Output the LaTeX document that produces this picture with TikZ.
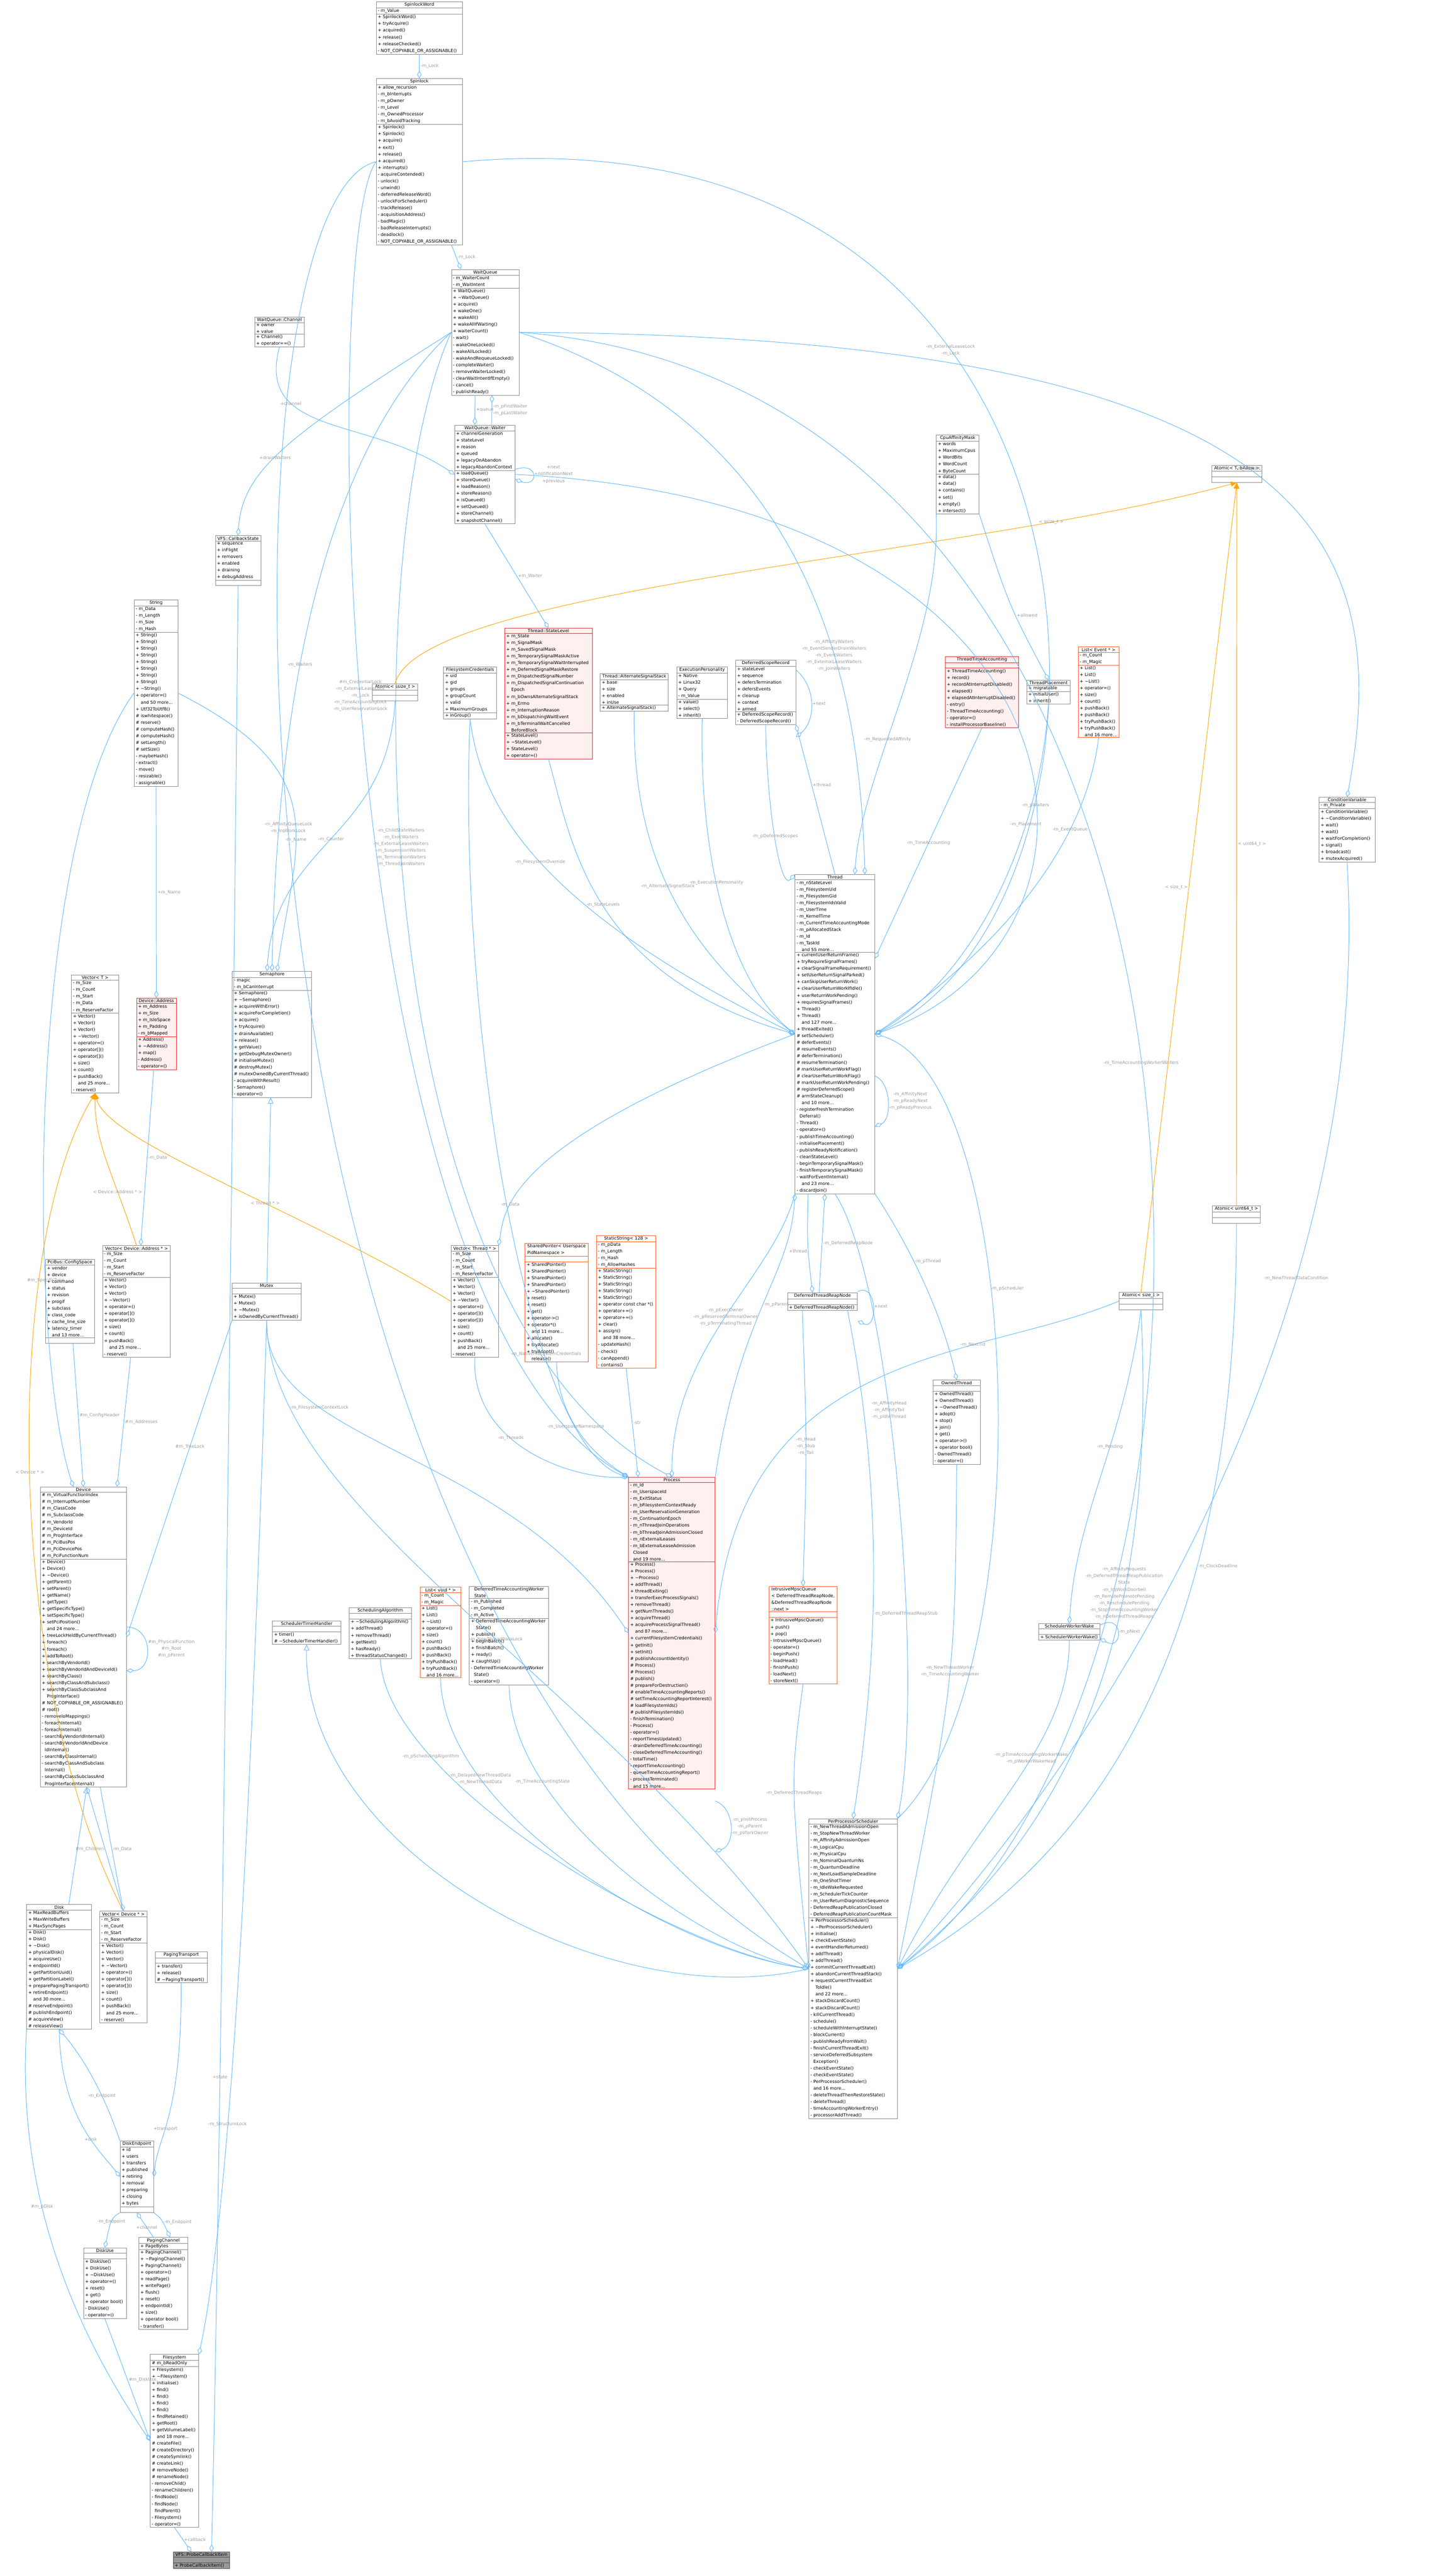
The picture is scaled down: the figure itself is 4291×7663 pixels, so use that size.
\documentclass[tikz,border=0pt]{standalone}
\usepackage{fontspec}
\setmainfont{DejaVu Sans}
\usetikzlibrary{shapes.multipart,arrows.meta}
\definecolor{edgeblue}{HTML}{63B8FF}
\definecolor{labgray}{HTML}{9A9A9A}
\definecolor{boxgray}{HTML}{8A8A8A}
\definecolor{hotred}{HTML}{FF2020}
\definecolor{palered}{HTML}{FFF0F0}
\definecolor{orred}{HTML}{FF5A1F}
\definecolor{tmplorange}{HTML}{FFA500}
\newcommand{\tld}{\textasciitilde}
\newcommand{\nil}{\rule{0pt}{1.1pt}}
% one class box: name, extra style, x, top y, width, title, attributes, methods
\newcommand{\cbox}[8]{\node[cls,#2,minimum width=#5*0.1pt,anchor=north] (#1) at (#3,#4) {#6\nodepart{two}#7\nodepart{three}#8};}
\begin{document}
\catcode`\_=12
\begin{tikzpicture}[
    x=0.1pt, y=-0.1pt,
    every node/.style={font={\fontsize{1.3pt}{2pt}\selectfont}},
    cls/.style={                        % class box
        rectangle split, rectangle split parts=3,
        rectangle split part align={center,left,left},
        draw=boxgray, line width=0.12pt, fill=white,
        inner xsep=0.45pt, inner ysep=0.22pt, align=left
    },
    hot/.style={draw=hotred, fill=palered},
    tpl/.style={draw=orred},
    dim/.style={draw=black!70, fill=black!40},
    agg/.style={draw=edgeblue, line width=0.15pt, -{Diamond[open,length=2.2pt,width=1.3pt]}},
    inh/.style={draw=edgeblue, line width=0.15pt, -{Triangle[open,length=1.8pt,width=1.6pt]}},
    tmpl/.style={draw=tmplorange, line width=0.15pt, -{Triangle[length=1.8pt,width=1.5pt]}},
    lbl/.style={text=labgray, align=center, inner sep=0.3pt}
]
\useasboundingbox (0,0) rectangle (4291,7663);

% top chain
\cbox{spinword}{}{1247}{5}{256}{SpinlockWord}{- m_Value}{+ SpinlockWord()\\+ tryAcquire()\\+ acquired()\\+ release()\\+ releaseChecked()\\- NOT_COPYABLE_OR_ASSIGNABLE()}
\cbox{spinlock}{}{1247}{233}{256}{Spinlock}{+ allow_recursion\\- m_bInterrupts\\- m_pOwner\\- m_Level\\- m_OwnedProcessor\\- m_bAvoidTracking}{+ Spinlock()\\+ Spinlock()\\+ acquire()\\+ exit()\\+ release()\\+ acquired()\\+ interrupts()\\- acquireContended()\\- unlock()\\- unwind()\\- deferredReleaseWord()\\- unlockForScheduler()\\- trackRelease()\\- acquisitionAddress()\\- badMagic()\\- badReleaseInterrupts()\\- deadlock()\\- NOT_COPYABLE_OR_ASSIGNABLE()}
\cbox{waitq}{}{1443}{801}{201}{WaitQueue}{- m_WaiterCount\\- m_WaitIntent}{+ WaitQueue()\\+ \tld WaitQueue()\\+ acquire()\\+ wakeOne()\\+ wakeAll()\\+ wakeAllIfWaiting()\\+ waiterCount()\\- wait()\\- wakeOneLocked()\\- wakeAllLocked()\\- wakeAndRequeueLocked()\\- completeWaiter()\\- removeWaiterLocked()\\- clearWaitIntentIfEmpty()\\- cancel()\\- publishReady()}
\cbox{waiter}{}{1442}{1264}{180}{WaitQueue::Waiter}{+ channelGeneration\\+ stateLevel\\+ reason\\+ queued\\+ legacyOnAbandon\\+ legacyAbandonContext}{+ loadQueue()\\+ storeQueue()\\+ loadReason()\\+ storeReason()\\+ isQueued()\\+ setQueued()\\+ storeChannel()\\+ snapshotChannel()}
\cbox{wqchan}{}{831}{942}{147}{WaitQueue::Channel}{+ owner\\+ value}{+ Channel()\\+ operator==()}
\cbox{cbstate}{}{708}{1593}{135}{VFS::CallbackState}{+ sequence\\+ inFlight\\+ removers\\+ enabled\\+ draining\\+ debugAddress}{\nil}
\cbox{cpumask}{}{2848}{1294}{127}{CpuAffinityMask}{+ words\\+ MaximumCpus\\+ WordBits\\+ WordCount\\+ ByteCount}{+ data()\\+ data()\\+ contains()\\+ set()\\+ empty()\\+ intersect()}
\cbox{atomtmpl}{}{3678}{1384}{150}{Atomic< T, bAllow >}{\nil}{\nil}

% thread members row
\cbox{string}{}{464}{1784}{130}{String}{- m_Data\\- m_Length\\- m_Size\\- m_Hash}{+ String()\\+ String()\\+ String()\\+ String()\\+ String()\\+ String()\\+ String()\\+ String()\\+ \tld String()\\+ operator=()\\\phantom{+ }and 50 more...\\+ Utf32ToUtf8()\\\# iswhitespace()\\\# reserve()\\\# computeHash()\\\# computeHash()\\\# setLength()\\\# setSize()\\- maybeHash()\\- extract()\\- move()\\- resizable()\\- assignable()}
\cbox{atomssize}{}{1175}{2033}{135}{Atomic< ssize_t >}{\nil}{\nil}
\cbox{statelvl}{hot}{1631}{1868}{260}{Thread::StateLevel}{+ m_State\\+ m_SignalMask\\+ m_SavedSignalMask\\+ m_TemporarySignalMaskActive\\+ m_TemporarySignalWaitInterrupted\\+ m_DeferredSignalMaskRestore\\+ m_DispatchedSignalNumber\\+ m_DispatchedSignalContinuation\\\phantom{+ }Epoch\\+ m_bOwnsAlternateSignalStack\\+ m_Errno\\+ m_InterruptionReason\\+ m_bDispatchingWaitEvent\\+ m_bTerminalWaitCancelled\\\phantom{+ }BeforeBlock}{+ StateLevel()\\+ \tld StateLevel()\\+ StateLevel()\\+ operator=()}
\cbox{fscred}{}{1398}{1983}{158}{FilesystemCredentials}{+ uid\\+ gid\\+ groups\\+ groupCount\\+ valid\\+ MaximumGroups}{+ inGroup()}
\cbox{altstack}{}{1886}{2003}{202}{Thread::AlternateSignalStack}{+ base\\+ size\\+ enabled\\+ inUse}{+ AlternateSignalStack()}
\cbox{execpers}{}{2088}{1983}{151}{ExecutionPersonality}{+ Native\\+ Linux32\\+ Query\\- m_Value}{+ value()\\+ select()\\+ inherit()}
\cbox{defscope}{}{2277}{1963}{179}{DeferredScopeRecord}{+ stateLevel\\+ sequence\\+ defersTermination\\+ defersEvents\\+ cleanup\\+ context\\+ armed}{+ DeferredScopeRecord()\\- DeferredScopeRecord()}
\cbox{timeacct}{hot}{2920}{1952}{217}{ThreadTimeAccounting}{\nil}{+ ThreadTimeAccounting()\\+ record()\\+ recordAtInterruptDisabled()\\+ elapsed()\\+ elapsedAtInterruptDisabled()\\- entry()\\- ThreadTimeAccounting()\\- operator=()\\- installProcessorBaseline()}
\cbox{placement}{}{3118}{2023}{129}{ThreadPlacement}{+ migratable}{+ initialUser()\\+ inherit()}
\cbox{listevent}{tpl}{3267}{1924}{121}{List< Event * >}{- m_Count\\- m_Magic}{+ List()\\+ List()\\+ \tld List()\\+ operator=()\\+ size()\\+ count()\\+ pushBack()\\+ pushBack()\\+ tryPushBack()\\+ tryPushBack()\\\phantom{+ }and 16 more...}
\cbox{condvar}{}{4006}{2371}{166}{ConditionVariable}{- m_Private}{+ ConditionVariable()\\+ \tld ConditionVariable()\\+ wait()\\+ wait()\\+ waitForCompletion()\\+ signal()\\+ broadcast()\\+ mutexAcquired()}

% middle left
\cbox{vectmpl}{}{283}{2900}{141}{Vector< T >}{- m_Size\\- m_Count\\- m_Start\\- m_Data\\- m_ReserveFactor}{+ Vector()\\+ Vector()\\+ Vector()\\+ \tld Vector()\\+ operator=()\\+ operator[]()\\+ operator[]()\\+ size()\\+ count()\\+ pushBack()\\\phantom{+ }and 25 more...\\- reserve()}
\cbox{devaddr}{hot}{465}{2969}{118}{Device::Address}{+ m_Address\\+ m_Size\\+ m_IsIoSpace\\+ m_Padding\\- m_bMapped}{+ Address()\\+ \tld Address()\\+ map()\\- Address()\\- operator=()}
\cbox{sema}{}{809}{2889}{236}{Semaphore}{- magic\\- m_bCanInterrupt}{+ Semaphore()\\+ \tld Semaphore()\\+ acquireWithError()\\+ acquireForCompletion()\\+ acquire()\\+ tryAcquire()\\+ drainAvailable()\\+ release()\\+ getValue()\\+ getDebugMutexOwner()\\\# initialiseMutex()\\\# destroyMutex()\\\# mutexOwnedByCurrentThread()\\- acquireWithResult()\\- Semaphore()\\- operator=()}
\cbox{thread}{}{2483}{2601}{237}{Thread}{- m_nStateLevel\\- m_FilesystemUid\\- m_FilesystemGid\\- m_FilesystemIdsValid\\- m_UserTime\\- m_KernelTime\\- m_CurrentTimeAccountingMode\\- m_pAllocatedStack\\- m_Id\\- m_TaskId\\\phantom{+ }and 55 more...}{+ currentUserReturnFrame()\\+ tryRequireSignalFrames()\\+ clearSignalFrameRequirement()\\+ setUserReturnSignalParked()\\+ canSkipUserReturnWork()\\+ clearUserReturnWorkIfIdle()\\+ userReturnWorkPending()\\+ requiresSignalFrames()\\+ Thread()\\+ Thread()\\\phantom{+ }and 127 more...\\+ threadExited()\\\# setScheduler()\\\# deferEvents()\\\# resumeEvents()\\\# deferTermination()\\\# resumeTermination()\\\# markUserReturnWorkFlag()\\\# clearUserReturnWorkFlag()\\\# markUserReturnWorkPending()\\\# registerDeferredScope()\\\# armStateCleanup()\\\phantom{+ }and 10 more...\\- registerFreshTermination\\\phantom{- }Deferral()\\- Thread()\\- operator=()\\- publishTimeAccounting()\\- initialisePlacement()\\- publishReadyNotification()\\- cleanStateLevel()\\- beginTemporarySignalMask()\\- finishTemporarySignalMask()\\- waitForEventInternal()\\\phantom{+ }and 23 more...\\- discardJoin()}

% template instances and owners
\cbox{vecaddr}{}{406}{3705}{202}{Vector< Device::Address * >}{- m_Size\\- m_Count\\- m_Start\\- m_ReserveFactor}{+ Vector()\\+ Vector()\\+ Vector()\\+ \tld Vector()\\+ operator=()\\+ operator[]()\\+ operator[]()\\+ size()\\+ count()\\+ pushBack()\\\phantom{+ }and 25 more...\\- reserve()}
\cbox{pcicfg}{}{208}{3745}{146}{PciBus::ConfigSpace}{+ vendor\\+ device\\+ command\\+ status\\+ revision\\+ progif\\+ subclass\\+ class_code\\+ cache_line_size\\+ latency_timer\\\phantom{+ }and 13 more...}{\nil}
\cbox{mutex}{}{793}{3816}{205}{Mutex}{\nil}{+ Mutex()\\+ Mutex()\\+ \tld Mutex()\\+ isOwnedByCurrentThread()}
\cbox{vecthread}{}{1412}{3705}{141}{Vector< Thread * >}{- m_Size\\- m_Count\\- m_Start\\- m_ReserveFactor}{+ Vector()\\+ Vector()\\+ Vector()\\+ \tld Vector()\\+ operator=()\\+ operator[]()\\+ operator[]()\\+ size()\\+ count()\\+ pushBack()\\\phantom{+ }and 25 more...\\- reserve()}
\cbox{shptr}{tpl}{1655}{3698}{187}{SharedPointer< Userspace\\PidNamespace >}{\nil}{+ SharedPointer()\\+ SharedPointer()\\+ SharedPointer()\\+ SharedPointer()\\+ \tld SharedPointer()\\+ reset()\\+ reset()\\+ get()\\+ operator->()\\+ operator*()\\\phantom{+ }and 11 more...\\+ allocate()\\+ tryAllocate()\\+ tryAdopt()\\\phantom{+ }release()}
\cbox{statstr}{tpl}{1862}{3675}{176}{StaticString< 128 >}{- m_pData\\- m_Length\\- m_Hash\\- m_AllowHashes}{+ StaticString()\\+ StaticString()\\+ StaticString()\\+ StaticString()\\+ StaticString()\\+ operator const char *()\\+ operator+=()\\+ operator+=()\\+ clear()\\+ assign()\\\phantom{+ }and 38 more...\\- updateHash()\\- check()\\- canAppend()\\- contains()}
\cbox{reapnode}{}{2446}{3845}{208}{DeferredThreadReapNode}{\nil}{+ DeferredThreadReapNode()}
\cbox{atomu64}{}{3677}{3586}{143}{Atomic< uint64_t >}{\nil}{\nil}
\cbox{atomsize}{}{3393}{3844}{130}{Atomic< size_t >}{\nil}{\nil}
\cbox{ownedthr}{}{2845}{4105}{141}{OwnedThread}{\nil}{+ OwnedThread()\\+ OwnedThread()\\+ \tld OwnedThread()\\+ adopt()\\+ stop()\\+ join()\\+ get()\\+ operator->()\\+ operator bool()\\- OwnedThread()\\- operator=()}
\cbox{device}{}{248}{4423}{256}{Device}{\# m_VirtualFunctionIndex\\\# m_InterruptNumber\\\# m_ClassCode\\\# m_SubclassCode\\\# m_VendorId\\\# m_DeviceId\\\# m_ProgInterface\\\# m_PciBusPos\\\# m_PciDevicePos\\\# m_PciFunctionNum}{+ Device()\\+ Device()\\+ \tld Device()\\+ getParent()\\+ setParent()\\+ getName()\\+ getType()\\+ getSpecificType()\\+ setSpecificType()\\+ setPciPosition()\\\phantom{+ }and 24 more...\\+ treeLockHeldByCurrentThread()\\+ foreach()\\+ foreach()\\+ addToRoot()\\+ searchByVendorId()\\+ searchByVendorIdAndDeviceId()\\+ searchByClass()\\+ searchByClassAndSubclass()\\+ searchByClassSubclassAnd\\\phantom{+ }ProgInterface()\\\# NOT_COPYABLE_OR_ASSIGNABLE()\\\# root()\\- removeIoMappings()\\- foreachInternal()\\- foreachInternal()\\- searchByVendorIdInternal()\\- searchByVendorIdAndDevice\\\phantom{- }IdInternal()\\- searchByClassInternal()\\- searchByClassAndSubclass\\\phantom{- }Internal()\\- searchByClassSubclassAnd\\\phantom{- }ProgInterfaceInternal()}
\cbox{process}{hot}{1998}{4394}{257}{Process}{- m_Id\\- m_UserspaceId\\- m_ExitStatus\\- m_bFilesystemContextReady\\- m_UserReservationGeneration\\- m_ContinuationEpoch\\- m_nThreadJoinOperations\\- m_bThreadJoinAdmissionClosed\\- m_nExternalLeases\\- m_bExternalLeaseAdmission\\\phantom{- }Closed\\\phantom{- }and 19 more...}{+ Process()\\+ Process()\\+ \tld Process()\\+ addThread()\\+ threadExiting()\\+ transferExecProcessSignals()\\+ removeThread()\\+ getNumThreads()\\+ acquireThread()\\+ acquireProcessSignalThread()\\\phantom{+ }and 87 more...\\+ currentFilesystemCredentials()\\+ getInit()\\+ setInit()\\\# publishAccountIdentity()\\\# Process()\\\# Process()\\\# publish()\\\# prepareForDestruction()\\\# enableTimeAccountingReports()\\\# setTimeAccountingReportInterest()\\\# loadFilesystemIds()\\\# publishFilesystemIds()\\- finishTermination()\\- Process()\\- operator=()\\- reportTimesUpdated()\\- drainDeferredTimeAccounting()\\- closeDeferredTimeAccounting()\\- totalTime()\\- reportTimeAccounting()\\- queueTimeAccountingReport()\\- processTerminated()\\\phantom{- }and 15 more...}

% scheduler row
\cbox{schedtimer}{}{912}{4821}{203}{SchedulerTimerHandler}{\nil}{+ timer()\\\# \tld SchedulerTimerHandler()}
\cbox{schedalgo}{}{1131}{4781}{185}{SchedulingAlgorithm}{\nil}{+ \tld SchedulingAlgorithm()\\+ addThread()\\+ removeThread()\\+ getNext()\\+ hasReady()\\+ threadStatusChanged()}
\cbox{listvoid}{tpl}{1310}{4721}{122}{List< void * >}{- m_Count\\- m_Magic}{+ List()\\+ List()\\+ \tld List()\\+ operator=()\\+ size()\\+ count()\\+ pushBack()\\+ pushBack()\\+ tryPushBack()\\+ tryPushBack()\\\phantom{+ }and 16 more...}
\cbox{dtaws}{}{1514}{4719}{236}{DeferredTimeAccountingWorker\\State}{- m_Published\\- m_Completed\\- m_Active}{+ DeferredTimeAccountingWorker\\\phantom{+ }State()\\+ publish()\\+ beginBatch()\\+ finishBatch()\\+ ready()\\+ caughtUp()\\- DeferredTimeAccountingWorker\\\phantom{- }State()\\- operator=()}
\cbox{mpscq}{tpl}{2388}{4719}{203}{IntrusiveMpscQueue\\< DeferredThreadReapNode,\\ \&DeferredThreadReapNode\\::next >}{\nil}{+ IntrusiveMpscQueue()\\+ push()\\+ pop()\\- IntrusiveMpscQueue()\\- operator=()\\- beginPush()\\- loadHead()\\- finishPush()\\- loadNext()\\- storeNext()}
\cbox{workwake}{}{3180}{4829}{182}{SchedulerWorkerWake}{\nil}{+ SchedulerWorkerWake()}
\cbox{pps}{}{2537}{5410}{263}{PerProcessorScheduler}{- m_NewThreadAdmissionOpen\\- m_StopNewThreadWorker\\- m_AffinityAdmissionOpen\\- m_LogicalCpu\\- m_PhysicalCpu\\- m_NominalQuantumNs\\- m_QuantumDeadline\\- m_NextLoadSampleDeadline\\- m_OneShotTimer\\- m_IdleWakeRequested\\- m_SchedulerTickCounter\\- m_UserReturnDiagnosticSequence\\- DeferredReapPublicationClosed\\- DeferredReapPublicationCountMask}{+ PerProcessorScheduler()\\+ \tld PerProcessorScheduler()\\+ initialise()\\+ checkEventState()\\+ eventHandlerReturned()\\+ addThread()\\+ addThread()\\+ commitCurrentThreadExit()\\+ abandonCurrentThreadStack()\\+ requestCurrentThreadExit\\\phantom{+ }ToIdle()\\\phantom{+ }and 22 more...\\+ stackDiscardCount()\\+ stackDiscardCount()\\- killCurrentThread()\\- schedule()\\- scheduleWithInterruptState()\\- blockCurrent()\\- publishReadyFromWait()\\- finishCurrentThreadExit()\\- serviceDeferredSubsystem\\\phantom{- }Exception()\\- checkEventState()\\- checkEventState()\\- PerProcessorScheduler()\\\phantom{- }and 16 more...\\- deleteThreadThenRestoreState()\\- deleteThread()\\- timeAccountingWorkerEntry()\\- processorAddThread()}

% storage corner
\cbox{disk}{}{176}{5665}{193}{Disk}{+ MaxReadBuffers\\+ MaxWriteBuffers\\+ MaxSyncPages}{+ Disk()\\+ Disk()\\+ \tld Disk()\\+ physicalDisk()\\+ acquireUse()\\+ endpointId()\\+ getPartitionUuid()\\+ getPartitionLabel()\\+ preparePagingTransport()\\+ retireEndpoint()\\\phantom{+ }and 30 more...\\\# reserveEndpoint()\\\# publishEndpoint()\\\# acquireView()\\\# releaseView()}
\cbox{vecdev}{}{367}{5685}{141}{Vector< Device * >}{- m_Size\\- m_Count\\- m_Start\\- m_ReserveFactor}{+ Vector()\\+ Vector()\\+ Vector()\\+ \tld Vector()\\+ operator=()\\+ operator[]()\\+ operator[]()\\+ size()\\+ count()\\+ pushBack()\\\phantom{+ }and 25 more...\\- reserve()}
\cbox{pagetrans}{}{539}{5805}{154}{PagingTransport}{\nil}{+ transfer()\\+ release()\\\# \tld PagingTransport()}
\cbox{diskend}{}{407}{6368}{100}{DiskEndpoint}{+ id\\+ users\\+ transfers\\+ published\\+ retiring\\+ removal\\+ preparing\\+ closing\\+ bytes}{\nil}
\cbox{diskuse}{}{312}{6686}{127}{DiskUse}{\nil}{+ DiskUse()\\+ DiskUse()\\+ \tld DiskUse()\\+ operator=()\\+ reset()\\+ get()\\+ operator bool()\\- DiskUse()\\- operator=()}
\cbox{pagechan}{}{486}{6655}{146}{PagingChannel}{+ PageBytes}{+ PagingChannel()\\+ \tld PagingChannel()\\+ PagingChannel()\\+ operator=()\\+ readPage()\\+ writePage()\\+ flush()\\+ reset()\\+ endpointId()\\+ size()\\+ operator bool()\\- transfer()}
\cbox{fs}{}{519}{7003}{144}{Filesystem}{\# m_bReadOnly}{+ Filesystem()\\+ \tld Filesystem()\\+ initialise()\\+ find()\\+ find()\\+ find()\\+ find()\\+ findRetained()\\+ getRoot()\\+ getVolumeLabel()\\\phantom{+ }and 18 more...\\\# createFile()\\\# createDirectory()\\\# createSymlink()\\\# createLink()\\\# removeNode()\\\# renameNode()\\- removeChild()\\- renameChildren()\\- findNode()\\- findNode()\\\phantom{- }findParent()\\- Filesystem()\\- operator=()}
\cbox{probe}{dim}{599}{7591}{168}{VFS::ProbeCallbackItem}{\nil}{+ ProbeCallbackItem()}

% locks and wait queues
\draw[agg] (spinword) -- node[lbl,right]{-m_Lock} (spinlock);
\draw[agg] (spinlock) -- node[lbl,right]{-m_Lock} (waitq);
\draw[agg] (spinlock.west) .. controls (950,700) and (980,3900) .. node[lbl,pos=0.45]{\#m_CredentialLock\\-m_ExternalLeaseLock\\-m_Lock\\-m_TimeAccountingLock\\-m_UserReservationLock} (process.north west);
\draw[agg] (spinlock.west) .. controls (600,600) and (620,4800) .. node[lbl,pos=0.45]{-m_AffinityQueueLock\\-m_IrqWorkLock} (pps.west);
\draw[agg] (spinlock.east) .. controls (3425,300) and (3425,2700) .. node[lbl,pos=0.35]{-m_ExternalLeaseLock\\-m_Lock} (thread.east);
\draw[agg] ([xshift=-3pt]waitq.south) -- node[lbl,right]{+queue} ([xshift=-3pt]waiter.north);
\draw[agg] ([xshift=2pt]waiter.north) -- node[lbl,right]{-m_pFirstWaiter\\-m_pLastWaiter} ([xshift=2pt]waitq.south);
\draw[agg] ([yshift=1.5pt]waiter.east) .. controls +(70,-25) and +(70,25) .. node[lbl,right]{+next\\+notificationNext\\+previous} ([yshift=-1.5pt]waiter.east);
\draw[agg] (wqchan.south) .. controls (760,1300) and (1100,1240) .. node[lbl,pos=0.3]{+channel} (waiter.west);
\draw[agg] (waitq.west) .. controls (850,1300) and (720,1400) .. node[lbl,pos=0.55]{+drainWaiters} (cbstate.north);
\draw[agg] (waiter.south) -- node[lbl,right]{+m_Waiter} (statelvl.north);
\draw[agg] (waitq.west) .. controls (1060,1600) and (1060,3900) .. node[lbl,pos=0.45]{-m_ChildStateWaiters\\-m_ExecWaiters\\-m_ExternalLeaseWaiters\\-m_SuspensionWaiters\\-m_TerminationWaiters\\-m_ThreadJoinWaiters} (process.north);
\draw[agg] (waitq.east) .. controls (2500,1300) and (2560,2200) .. node[lbl,pos=0.6]{-m_AffinityWaiters\\-m_EventSenderDrainWaiters\\-m_EventWaiters\\-m_ExternalLeaseWaiters\\-m_JoinWaiters} ([xshift=-3pt]thread.north east);
\draw[agg] (waitq.east) .. controls (3900,1000) and (4150,1600) .. node[lbl,pos=0.5]{-m_Waiters} (condvar.north);
\draw[agg] (waitq.west) .. controls (900,1400) and (820,2300) .. node[lbl,pos=0.55]{-m_Waiters} (sema.north);
\draw[agg] (waitq.east) .. controls (3822,1150) and (3822,5000) .. node[lbl,pos=0.5]{-m_TimeAccountingWorkerWaiters} (pps.east);
\draw[agg] (condvar.south) .. controls (4090,4000) and (3200,5300) .. node[lbl,pos=0.3]{-m_NewThreadDataCondition} (pps.east);
\draw[agg] (waiter.east) .. controls (3300,1500) and (3400,2800) .. node[lbl,pos=0.6]{-m_pWaiters} (thread.east);

% string, atomics, semaphore
\draw[agg] (string) -- node[lbl,right]{+m_Name} (devaddr);
\draw[agg] (string.east) .. controls (1000,2300) and (880,2500) .. node[lbl,pos=0.6]{-m_Name} ([xshift=1.5pt]sema.north);
\draw[agg] (atomssize.south) .. controls (1150,2500) and (820,2500) .. node[lbl,pos=0.5]{-m_Counter} ([xshift=-1.5pt]sema.north);
\draw[agg] (string.west) .. controls (80,2500) and (80,4000) .. node[lbl,pos=0.7]{\#m_SpecificType} ([xshift=-3pt]device.north);
\draw[tmpl] (atomssize.north) .. controls (1250,1750) and (2900,1650) .. node[lbl,pos=0.8]{< ssize_t >} (atomtmpl.south);
\draw[tmpl] (atomu64.north) -- node[lbl,right]{< uint64_t >} (atomtmpl.south);
\draw[tmpl] (atomsize.north) -- node[lbl,left]{< size_t >} (atomtmpl.south);

% vectors and devices
\draw[tmpl] (vecaddr.north) .. controls (340,3500) and (280,3400) .. node[lbl,pos=0.3]{< Device::Address * >} (vectmpl.south);
\draw[tmpl] (vecdev.north) .. controls (10,5000) and (10,3700) .. node[lbl,pos=0.5]{< Device * >} (vectmpl.south);
\draw[tmpl] (vecthread.west) .. controls (900,3600) and (320,3400) .. node[lbl,pos=0.4]{< Thread * >} (vectmpl.south);
\draw[agg] (devaddr) -- node[lbl,right]{-m_Data} (vecaddr);
\draw[agg] (vecaddr) -- node[lbl,right]{\#m_Addresses} ([xshift=10pt]device.north);
\draw[agg] (pcicfg) -- node[lbl,right]{\#m_ConfigHeader} (device.north);
\draw[agg] (mutex.south west) -- node[lbl,pos=0.4]{\#m_TreeLock} (device.east);
\draw[inh] (mutex) -- (sema);
\draw[agg] (mutex.south) .. controls (780,4300) and (1500,4300) .. node[lbl,pos=0.3]{-m_FilesystemContextLock} (process.west);
\draw[agg] (mutex.south) .. controls (760,5000) and (700,6500) .. node[lbl,pos=0.7]{-m_StructureLock} (fs.north east);
\draw[agg] (mutex.south) .. controls (800,4500) and (1800,5000) .. node[lbl,pos=0.55]{-m_NewThreadDataLock} (pps.west);
\draw[agg] ([yshift=3pt]device.east) .. controls +(80,0) and +(80,0) .. node[lbl,right]{\#m_PhysicalFunction\\\#m_Root\\\#m_pParent} ([yshift=-10pt]device.east);
\draw[inh] (disk) -- ([xshift=1pt]device.south);
\draw[agg] ([xshift=5pt]device.south) -- node[lbl,right]{-m_Data} (vecdev.north);
\draw[agg] (vecdev.north) -- node[lbl,left]{\#m_Children} ([xshift=1pt]device.south);

% storage links
\draw[agg] (disk.south) .. controls (180,6300) and (300,6400) .. node[lbl,pos=0.6]{+disk} (diskend.west);
\draw[agg] (diskend.north west) .. controls (300,6200) and (230,6100) .. node[lbl,pos=0.3]{-m_Endpoint} (disk.south);
\draw[agg] (pagetrans.south) .. controls (540,6300) and (470,6350) .. node[lbl,pos=0.6]{+transport} (diskend.east);
\draw[agg] (diskend.south west) .. controls (330,6600) .. node[lbl,pos=0.5]{-m_Endpoint} (diskuse.north);
\draw[agg] (diskend.south east) .. controls (480,6600) .. node[lbl,right,pos=0.6]{-m_Endpoint} ([xshift=2pt]pagechan.north);
\draw[agg] ([xshift=-3pt]pagechan.north) -- node[lbl,pos=0.4]{+channel} (diskend.south);
\draw[agg] (disk.south west) .. controls (50,6500) and (200,6900) .. node[lbl,pos=0.4]{\#m_pDisk} (fs.west);
\draw[agg] (diskuse.south) -- node[lbl,right]{\#m_DiskUse} (fs.west);
\draw[agg] (fs.south) -- node[lbl,right]{+callback} ([xshift=-3pt]probe.north);
\draw[agg] (cbstate.south) .. controls (690,3500) and (655,6500) .. node[lbl,pos=0.7]{+state} ([xshift=3pt]probe.north);

% thread members
\draw[agg] (statelvl.south) .. controls (1700,2500) and (1750,2900) .. node[lbl,pos=0.5]{-m_StateLevels} (thread.west);
\draw[agg] (fscred.south) .. controls (1430,2400) and (1600,2700) .. node[lbl,pos=0.5]{-m_FilesystemOverride} (thread.west);
\draw[agg] (altstack.south) .. controls (1880,2500) and (2000,2800) .. node[lbl,pos=0.5]{-m_AlternateSignalStack} (thread.west);
\draw[agg] (execpers.south) .. controls (2080,2500) and (2150,2900) .. node[lbl,pos=0.45]{-m_ExecutionPersonality} (thread.west);
\draw[agg] (defscope.south) .. controls (2280,2400) and (2320,2650) .. node[lbl,pos=0.5]{-m_pDeferredScopes} (thread.north west);
\draw[agg] ([yshift=-3pt]defscope.north east) .. controls +(60,50) and +(60,-50) .. node[lbl,right]{+next} ([yshift=-23pt]defscope.north east);
\draw[agg] (thread.north) -- node[lbl,pos=0.6,right]{+thread} (defscope.south east);
\draw[agg] (timeacct.south) -- node[lbl,pos=0.5]{-m_TimeAccounting} ([yshift=-25pt]thread.north east);
\draw[agg] (placement.south) .. controls (3090,2500) and (2900,2900) .. node[lbl,pos=0.3]{-m_Placement} (thread.east);
\draw[agg] (listevent.south) .. controls (3230,2500) and (3000,2800) .. node[lbl,pos=0.3]{-m_EventQueue} (thread.east);
\draw[agg] (cpumask.south west) .. controls (2800,1900) and (2560,2300) .. node[lbl,pos=0.6]{-m_RequestedAffinity} ([xshift=-6pt]thread.north east);
\draw[agg] (cpumask.south east) .. controls (3000,1800) .. node[lbl,pos=0.6,right]{+allowed} (placement.north);
\draw[agg] ([yshift=-60pt]thread.north east) .. controls +(50,20) and +(50,-20) .. node[lbl,right]{-m_AffinityNext\\-m_pReadyNext\\-m_pReadyPrevious} ([yshift=-75pt]thread.north east);

% process links
\draw[agg] (fscred.south) .. controls (1360,3000) and (1560,4300) .. node[lbl,pos=0.7]{-m_NativeFilesystemCredentials} (process.north west);
\draw[agg] (thread.west) .. controls (1500,3400) and (1500,3600) .. node[lbl,pos=0.7]{-m_Data} (vecthread.north east);
\draw[agg] (vecthread.south) .. controls (1400,4300) and (1700,4400) .. node[lbl,pos=0.4]{-m_Threads} (process.north west);
\draw[agg] (shptr.south) .. controls (1660,4250) and (1800,4350) .. node[lbl,pos=0.4]{-m_UserspaceNamespace} (process.north west);
\draw[agg] (statstr.south) -- node[lbl,right]{-str} ([xshift=-10pt]process.north);
\draw[agg] (thread.south west) .. controls (2300,3800) and (2000,4000) .. node[lbl,pos=0.5]{-m_pExecOwner\\-m_pReservedTerminalOwner\\-m_pTerminatingThread} (process.north);
\draw[agg] (process.north east) .. controls (2200,3900) and (2350,3800) .. node[lbl,pos=0.5,right]{-m_pParent} (thread.south west);
\draw[agg] ([yshift=-50pt]process.east) .. controls +(60,20) and +(60,-20) .. node[lbl,right]{-m_pInitProcess\\-m_pParent\\-m_pVforkOwner} ([yshift=-65pt]process.east);
\draw[agg] (atomsize.west) .. controls (2900,4050) and (2200,4000) .. node[lbl,pos=0.3]{-m_NextTid} (process.east);
\draw[agg] ([xshift=-8pt]thread.south) .. controls (2400,3700) .. node[lbl,pos=0.6,left]{+thread} ([xshift=-3pt]reapnode.north);
\draw[agg] ([xshift=-1pt]reapnode.north) -- node[lbl,right]{-m_DeferredReapNode} ([xshift=-3pt]thread.south);
\draw[agg] (thread.south east) .. controls (2700,3700) and (2800,3900) .. node[lbl,pos=0.4,right]{-m_pThread} (ownedthr.north);
\draw[agg] ([yshift=3pt]reapnode.east) .. controls +(60,-30) and +(60,30) .. node[lbl,right]{+next} ([yshift=-3pt]reapnode.south east);

% scheduler links
\draw[agg] ([xshift=-6pt]reapnode.south) .. controls (2400,4300) .. node[lbl,pos=0.5]{-m_Head\\-m_Stub\\-m_Tail} (mpscq.north);
\draw[agg] ([xshift=-3pt]reapnode.south east) .. controls (2640,4500) and (2600,5000) .. node[lbl,pos=0.55,right]{-m_DeferredThreadReapStub} (pps.north);
\draw[agg] (thread.south) .. controls (2650,3800) and (2750,5000) .. node[lbl,pos=0.4]{-m_AffinityHead\\-m_AffinityTail\\-m_pIdleThread} (pps.north east);
\draw[agg] (pps.north east) .. controls (3100,5000) and (3050,3200) .. node[lbl,pos=0.6,right]{-m_pScheduler} (thread.east);
\draw[agg] (ownedthr.south) .. controls (2840,5000) .. node[lbl,pos=0.45]{-m_NewThreadWorker\\-m_TimeAccountingWorker} (pps.east);
\draw[agg] (workwake.south) .. controls (3180,5200) and (2900,5400) .. node[lbl,pos=0.4]{-m_pTimeAccountingWorkerWake\\-m_pWorkerWakeHead} (pps.east);
\draw[agg] ([yshift=2pt]workwake.east) .. controls +(70,-40) and +(70,40) .. node[lbl,right]{-m_pNext} ([yshift=-2pt]workwake.east);
\draw[agg] (atomsize.south) .. controls (3340,4300) and (3200,4500) .. node[lbl,pos=0.4]{-m_Pending} (workwake.north);
\draw[agg] (atomsize.south) .. controls (3450,5000) and (3100,5500) .. node[lbl,pos=0.3]{-m_AffinityRequests\\-m_DeferredThreadReapPublication\\State\\-m_IrqWorkDoorbell\\-m_RemotePromotePending\\-m_ReschedulePending\\-m_StopTimeAccountingWorker\\-m_nDeferredThreadReaps} (pps.east);
\draw[agg] (atomu64.south) .. controls (3677,5000) and (3200,5550) .. node[lbl,pos=0.3,right]{-m_ClockDeadline} (pps.east);
\draw[agg] (mpscq.south) .. controls (2350,5300) .. node[lbl,pos=0.5]{-m_DeferredThreadReaps} (pps.west);
\draw[agg] (schedalgo.south) .. controls (1150,5300) and (2000,5800) .. node[lbl,pos=0.25]{-m_pSchedulingAlgorithm} (pps.west);
\draw[agg] (listvoid.south) .. controls (1320,5400) and (2000,5800) .. node[lbl,pos=0.25]{-m_DelayedNewThreadData\\-m_NewThreadData} (pps.west);
\draw[agg] (dtaws.south) .. controls (1520,5400) and (2100,5800) .. node[lbl,pos=0.25]{-m_TimeAccountingState} (pps.west);
\draw[inh] (pps.west) .. controls (1800,6000) and (900,5500) .. (schedtimer.south);

\end{tikzpicture}
\end{document}
